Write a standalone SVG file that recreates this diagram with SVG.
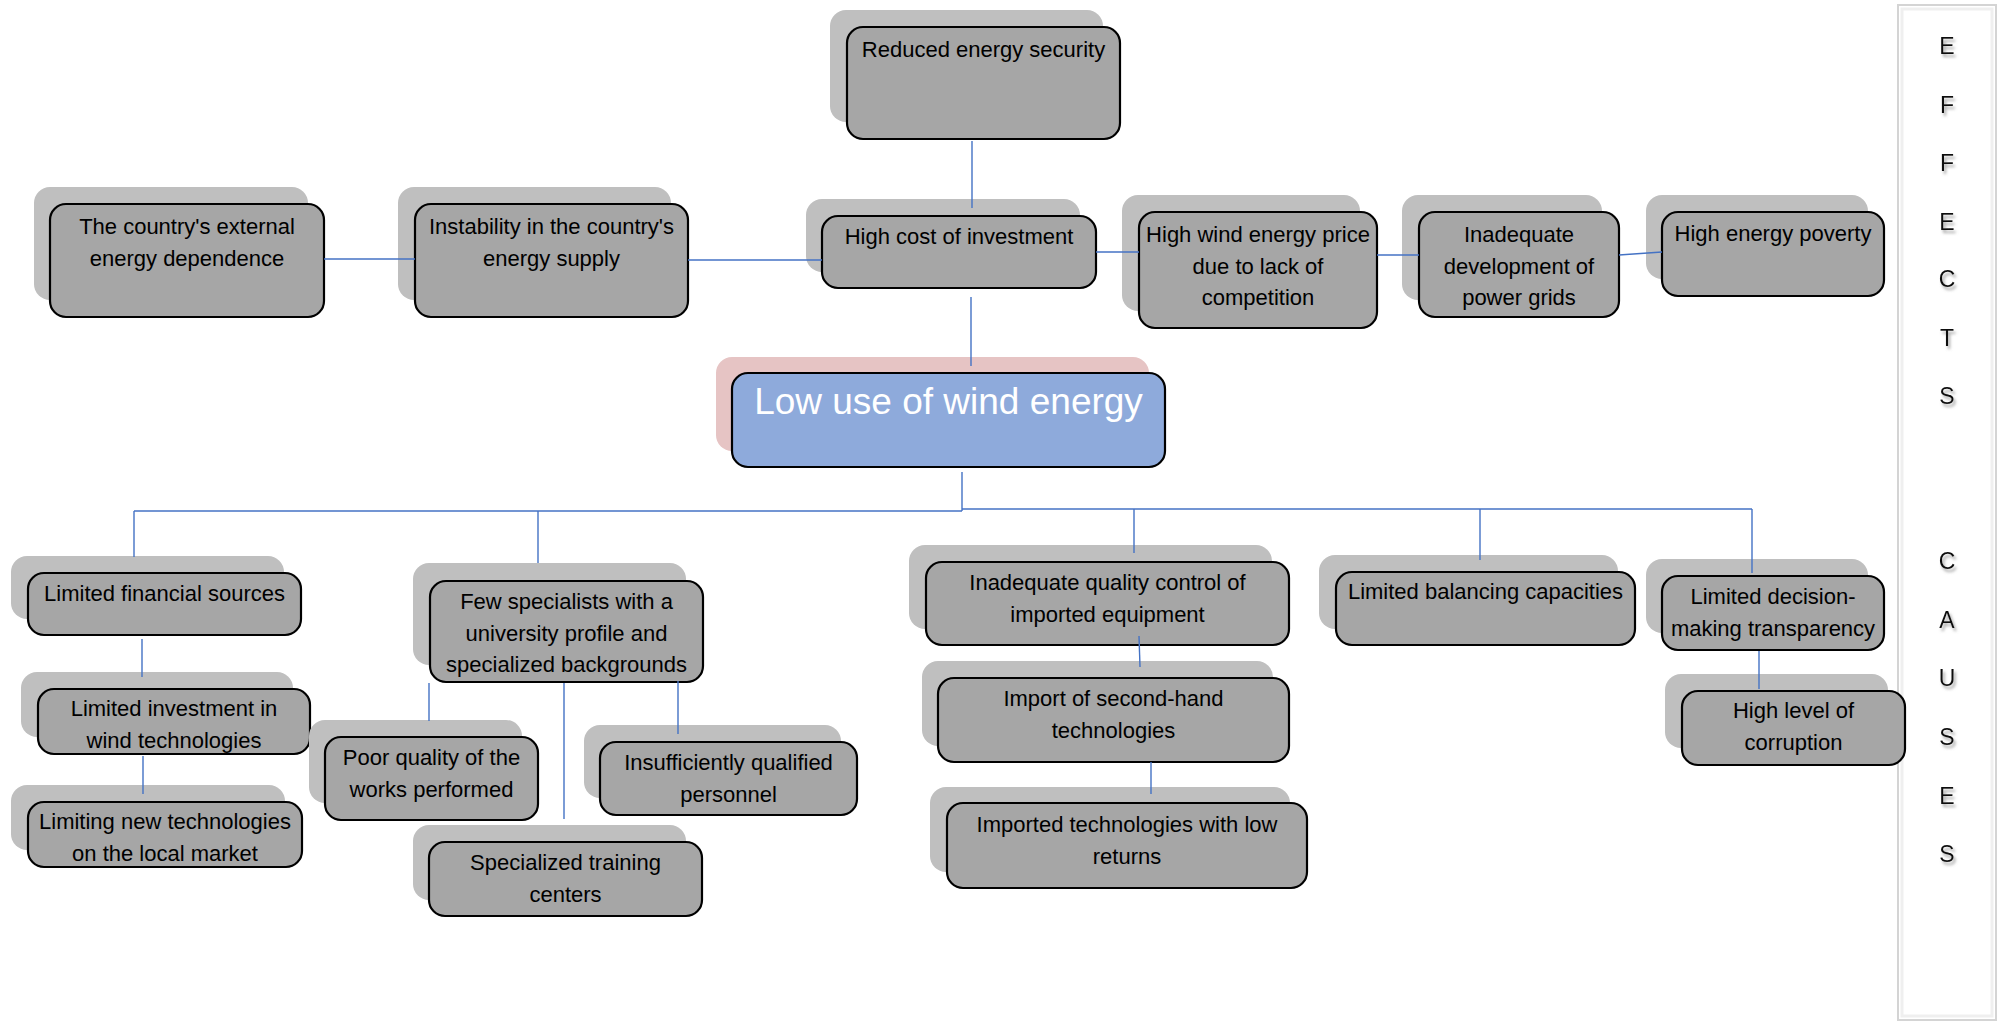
<svg xmlns="http://www.w3.org/2000/svg" width="1999" height="1024" viewBox="0 0 1999 1024">
  <defs>
    <filter id="letterShadow" x="-50%" y="-50%" width="200%" height="200%">
      <feDropShadow dx="2" dy="3" stdDeviation="1.6" flood-color="#8c8c8c" flood-opacity="0.8"/>
    </filter>
    <style>
      .sh{fill:#bfbfbf}
      .bx{fill:#a6a6a6;stroke:#000;stroke-width:2.2}
      .t{font-family:"Liberation Sans",Arial,sans-serif;font-size:22px;fill:#000;text-anchor:middle}
      .cn{stroke:#4472c4;stroke-width:1.4;fill:none}
      .side{font-family:"Liberation Sans",Arial,sans-serif;font-size:23px;fill:#111;text-anchor:middle;filter:url(#letterShadow)}
    </style>
  </defs>

  <rect width="1999" height="1024" fill="#fff"/>

  <!-- side panel with the vertical EFFECTS / CAUSES labels -->
  <g id="side-panel">
    <rect x="1898" y="5" width="98" height="1015" fill="#fff" stroke="#d4d4d4" stroke-width="2"/>
    <rect x="1902" y="9" width="90" height="1007" fill="none" stroke="#efefef" stroke-width="3"/>
    <text class="side" x="1947" y="54">E</text>
    <text class="side" x="1947" y="113">F</text>
    <text class="side" x="1947" y="171">F</text>
    <text class="side" x="1947" y="230">E</text>
    <text class="side" x="1947" y="287">C</text>
    <text class="side" x="1947" y="346">T</text>
    <text class="side" x="1947" y="404">S</text>
    <text class="side" x="1947" y="569">C</text>
    <text class="side" x="1947" y="628">A</text>
    <text class="side" x="1947" y="686">U</text>
    <text class="side" x="1947" y="745">S</text>
    <text class="side" x="1947" y="804">E</text>
    <text class="side" x="1947" y="862">S</text>
  </g>

  <!-- effects -->
  <g id="n-reduced-security">
    <rect class="sh" x="830" y="10" width="273" height="112" rx="16"/>
    <rect class="bx" x="847" y="27" width="273" height="112" rx="16"/>
    <text class="t" x="983.5" y="57">Reduced energy security</text>
  </g>

  <g id="n-external-dependence">
    <rect class="sh" x="34" y="187" width="274" height="113" rx="16"/>
    <rect class="bx" x="50" y="204" width="274" height="113" rx="16"/>
    <text class="t" x="187" y="234">The country's external</text>
    <text class="t" x="187" y="265.5">energy dependence</text>
  </g>

  <g id="n-supply-instability">
    <rect class="sh" x="398" y="187" width="273" height="113" rx="16"/>
    <rect class="bx" x="415" y="204" width="273" height="113" rx="16"/>
    <text class="t" x="551.5" y="234">Instability in the country's</text>
    <text class="t" x="551.5" y="265.5">energy supply</text>
  </g>

  <g id="n-high-cost">
    <rect class="sh" x="806" y="199" width="274" height="73" rx="16"/>
    <rect class="bx" x="822" y="216" width="274" height="72" rx="16"/>
    <text class="t" x="959" y="244">High cost of investment</text>
  </g>

  <g id="n-high-price">
    <rect class="sh" x="1122" y="195" width="238" height="116" rx="16"/>
    <rect class="bx" x="1139" y="212" width="238" height="116" rx="16"/>
    <text class="t" x="1258" y="242">High wind energy price</text>
    <text class="t" x="1258" y="273.5">due to lack of</text>
    <text class="t" x="1258" y="305">competition</text>
  </g>

  <g id="n-power-grids">
    <rect class="sh" x="1402" y="195" width="200" height="105" rx="16"/>
    <rect class="bx" x="1419" y="212" width="200" height="105" rx="16"/>
    <text class="t" x="1519" y="242">Inadequate</text>
    <text class="t" x="1519" y="273.5">development of</text>
    <text class="t" x="1519" y="305">power grids</text>
  </g>

  <g id="n-energy-poverty">
    <rect class="sh" x="1646" y="195" width="222" height="84" rx="16"/>
    <rect class="bx" x="1662" y="212" width="222" height="84" rx="16"/>
    <text class="t" x="1773" y="241">High energy poverty</text>
  </g>

  <!-- core problem -->
  <g id="n-core">
    <rect x="716" y="357" width="433" height="94" rx="16" fill="#e6c4c4"/>
    <rect x="732" y="373" width="433" height="94" rx="16" fill="#8eaadb" stroke="#000" stroke-width="2.2"/>
    <text x="948.5" y="414" font-family="Liberation Sans, Arial, sans-serif" font-size="37" fill="#fff" text-anchor="middle">Low use of wind energy</text>
  </g>

  <!-- causes -->
  <g id="n-financial">
    <rect class="sh" x="11" y="556" width="273" height="63" rx="16"/>
    <rect class="bx" x="28" y="573" width="273" height="62" rx="16"/>
    <text class="t" x="164.5" y="601">Limited financial sources</text>
  </g>

  <g id="n-investment">
    <rect class="sh" x="21" y="672" width="272" height="65" rx="16"/>
    <rect class="bx" x="38" y="689" width="272" height="65" rx="16"/>
    <text class="t" x="174" y="716">Limited investment in</text>
    <text class="t" x="174" y="747.5">wind technologies</text>
  </g>

  <g id="n-new-tech">
    <rect class="sh" x="11" y="785" width="274" height="65" rx="16"/>
    <rect class="bx" x="28" y="802" width="274" height="65" rx="16"/>
    <text class="t" x="165" y="829">Limiting new technologies</text>
    <text class="t" x="165" y="860.5">on the local market</text>
  </g>

  <g id="n-specialists">
    <rect class="sh" x="413" y="563" width="273" height="102" rx="16"/>
    <rect class="bx" x="430" y="581" width="273" height="101" rx="16"/>
    <text class="t" x="566.5" y="609">Few specialists with a</text>
    <text class="t" x="566.5" y="640.5">university profile and</text>
    <text class="t" x="566.5" y="672">specialized backgrounds</text>
  </g>

  <g id="n-poor-quality">
    <rect class="sh" x="309" y="720" width="213" height="83" rx="16"/>
    <rect class="bx" x="325" y="737" width="213" height="83" rx="16"/>
    <text class="t" x="431.5" y="765">Poor quality of the</text>
    <text class="t" x="431.5" y="796.5">works performed</text>
  </g>

  <g id="n-personnel">
    <rect class="sh" x="584" y="725" width="257" height="73" rx="16"/>
    <rect class="bx" x="600" y="742" width="257" height="73" rx="16"/>
    <text class="t" x="728.5" y="770">Insufficiently qualified</text>
    <text class="t" x="728.5" y="801.5">personnel</text>
  </g>

  <g id="n-training">
    <rect class="sh" x="413" y="825" width="273" height="75" rx="16"/>
    <rect class="bx" x="429" y="842" width="273" height="74" rx="16"/>
    <text class="t" x="565.5" y="870">Specialized training</text>
    <text class="t" x="565.5" y="901.5">centers</text>
  </g>

  <g id="n-quality-control">
    <rect class="sh" x="909" y="545" width="363" height="84" rx="16"/>
    <rect class="bx" x="926" y="562" width="363" height="83" rx="16"/>
    <text class="t" x="1107.5" y="590">Inadequate quality control of</text>
    <text class="t" x="1107.5" y="621.5">imported equipment</text>
  </g>

  <g id="n-second-hand">
    <rect class="sh" x="922" y="661" width="351" height="85" rx="16"/>
    <rect class="bx" x="938" y="678" width="351" height="84" rx="16"/>
    <text class="t" x="1113.5" y="706">Import of second-hand</text>
    <text class="t" x="1113.5" y="737.5">technologies</text>
  </g>

  <g id="n-low-returns">
    <rect class="sh" x="930" y="787" width="360" height="85" rx="16"/>
    <rect class="bx" x="947" y="803" width="360" height="85" rx="16"/>
    <text class="t" x="1127" y="832">Imported technologies with low</text>
    <text class="t" x="1127" y="863.5">returns</text>
  </g>

  <g id="n-balancing">
    <rect class="sh" x="1319" y="555" width="299" height="74" rx="16"/>
    <rect class="bx" x="1336" y="572" width="299" height="73" rx="16"/>
    <text class="t" x="1485.5" y="599">Limited balancing capacities</text>
  </g>

  <g id="n-transparency">
    <rect class="sh" x="1646" y="559" width="222" height="74" rx="16"/>
    <rect class="bx" x="1662" y="576" width="222" height="74" rx="16"/>
    <text class="t" x="1773" y="604">Limited decision-</text>
    <text class="t" x="1773" y="635.5">making transparency</text>
  </g>

  <g id="n-corruption">
    <rect class="sh" x="1665" y="674" width="223" height="74" rx="16"/>
    <rect class="bx" x="1682" y="691" width="223" height="74" rx="16"/>
    <text class="t" x="1793.5" y="718">High level of</text>
    <text class="t" x="1793.5" y="749.5">corruption</text>
  </g>

  <!-- connectors -->
  <g id="connectors" class="cn">
    <line x1="972" y1="141" x2="972" y2="208"/>
    <line x1="324" y1="259" x2="415" y2="259"/>
    <line x1="688" y1="260" x2="822" y2="260"/>
    <line x1="1096" y1="252" x2="1139" y2="252"/>
    <line x1="1377" y1="255" x2="1419" y2="255"/>
    <line x1="1619" y1="255" x2="1662" y2="252"/>
    <line x1="971" y1="297" x2="971" y2="366"/>
    <line x1="962" y1="472" x2="962" y2="511"/>
    <line x1="134" y1="511" x2="962" y2="511"/>
    <line x1="962" y1="509" x2="1752" y2="509"/>
    <line x1="134" y1="511" x2="134" y2="557"/>
    <line x1="538" y1="511" x2="538" y2="563"/>
    <line x1="1134" y1="509" x2="1134" y2="553"/>
    <line x1="1480" y1="509" x2="1480" y2="560"/>
    <line x1="1752" y1="509" x2="1752" y2="573"/>
    <line x1="142" y1="639" x2="142" y2="677"/>
    <line x1="143" y1="756" x2="143" y2="794"/>
    <line x1="429" y1="683" x2="429" y2="721"/>
    <line x1="678" y1="681" x2="678" y2="734"/>
    <line x1="564" y1="683" x2="564" y2="819"/>
    <line x1="1139" y1="636" x2="1140" y2="667"/>
    <line x1="1151" y1="762" x2="1151" y2="794"/>
    <line x1="1759" y1="651" x2="1759" y2="689"/>
  </g>
</svg>
